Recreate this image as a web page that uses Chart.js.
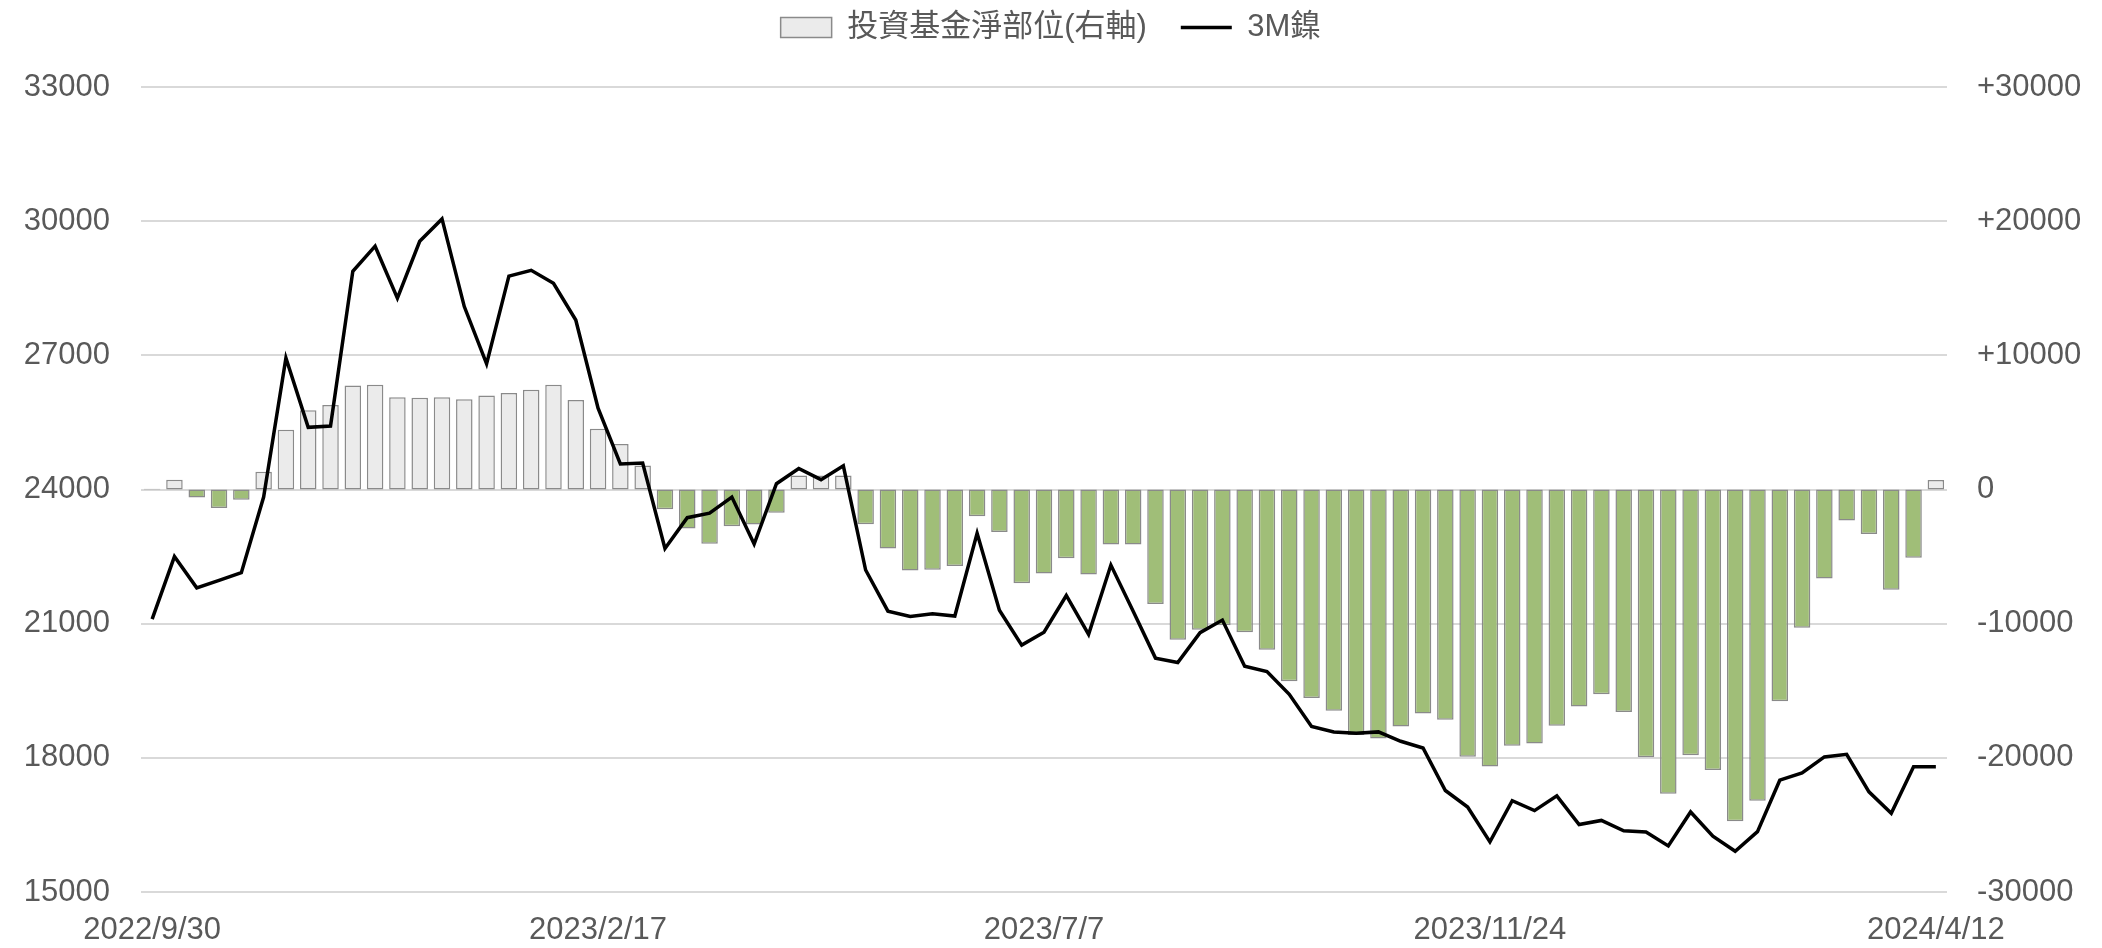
<!DOCTYPE html>
<html>
<head>
<meta charset="utf-8">
<script src="https://cdn.jsdelivr.net/npm/chart.js@4.4.1/dist/chart.umd.min.js"></script>
<style>
  html, body { margin: 0; padding: 0; background: #fff; }
  canvas { display: block; }
</style>
</head>
<body>
<canvas id="grafico" width="2102" height="948"></canvas>
<script>
// semanas (sexta-feira) de 2022/9/30 a 2024/4/12
const semanas = [
  '2022/9/30', '2022/10/7', '2022/10/14', '2022/10/21', '2022/10/28', '2022/11/4', '2022/11/11', '2022/11/18', '2022/11/25', '2022/12/2',
  '2022/12/9', '2022/12/16', '2022/12/23', '2022/12/30', '2023/1/6', '2023/1/13', '2023/1/20', '2023/1/27', '2023/2/3', '2023/2/10',
  '2023/2/17', '2023/2/24', '2023/3/3', '2023/3/10', '2023/3/17', '2023/3/24', '2023/3/31', '2023/4/7', '2023/4/14', '2023/4/21',
  '2023/4/28', '2023/5/5', '2023/5/12', '2023/5/19', '2023/5/26', '2023/6/2', '2023/6/9', '2023/6/16', '2023/6/23', '2023/6/30',
  '2023/7/7', '2023/7/14', '2023/7/21', '2023/7/28', '2023/8/4', '2023/8/11', '2023/8/18', '2023/8/25', '2023/9/1', '2023/9/8',
  '2023/9/15', '2023/9/22', '2023/9/29', '2023/10/6', '2023/10/13', '2023/10/20', '2023/10/27', '2023/11/3', '2023/11/10', '2023/11/17',
  '2023/11/24', '2023/12/1', '2023/12/8', '2023/12/15', '2023/12/22', '2023/12/29', '2024/1/5', '2024/1/12', '2024/1/19', '2024/1/26',
  '2024/2/2', '2024/2/9', '2024/2/16', '2024/2/23', '2024/3/1', '2024/3/8', '2024/3/15', '2024/3/22', '2024/3/29', '2024/4/5',
  '2024/4/12'
];

// datas que aparecem no eixo
const rotulosEixo = ['2022/9/30', '2023/2/17', '2023/7/7', '2023/11/24', '2024/4/12'];

// 投資基金淨部位 (eixo direito)
const posicaoFundos = [
  60, 720, -600, -1370, -770, 1320, 4450, 5910, 6290, 7750,
  7800, 6880, 6830, 6880, 6730, 7000, 7200, 7430, 7800, 6680,
  4520, 3400, 1790, -1470, -2910, -4050, -2740, -2610, -1740, 1050,
  1050, 1050, -2590, -4400, -6040, -5990, -5700, -1990, -3160, -6990,
  -6270, -5120, -6340, -4100, -4100, -8530, -11190, -10450, -10120, -10640,
  -11940, -14300, -15540, -16490, -18300, -18550, -17660, -16690, -17160, -19920,
  -20640, -19100, -18930, -17610, -16170, -15270, -16590, -19950, -22670, -19810,
  -20910, -24720, -23190, -15790, -10310, -6640, -2310, -3320, -7470, -5080,
  700
];

// 3M鎳 (eixo esquerdo)
const niquel3M = [
  21100, 22500, 21800, 21970, 22140, 23830, 26940, 25390, 25420, 28880,
  29440, 28280, 29550, 30050, 28090, 26810, 28770, 28900, 28610, 27790,
  25820, 24570, 24590, 22680, 23370, 23470, 23830, 22780, 24130, 24470,
  24220, 24530, 22200, 21280, 21160, 21220, 21170, 23020, 21300, 20520,
  20810, 21630, 20760, 22310, 21280, 20230, 20130, 20800, 21080, 20050,
  19930, 19420, 18700, 18580, 18550, 18580, 18370, 18220, 17270, 16900,
  16120, 17040, 16820, 17150, 16510, 16600, 16370, 16340, 16030, 16790,
  16250, 15910, 16350, 17500, 17660, 18020, 18080, 17240, 16760, 17800,
  17800
];

const corTexto = '#595959';
const fonte = "'Liberation Sans', Arial, 'Noto Sans CJK TC', sans-serif";

Chart.defaults.font.family = fonte;
Chart.defaults.font.size = 31;
Chart.defaults.color = corTexto;

// altura da legenda para o topo da área do gráfico ficar em 87px
const ajusteLegenda = {
  id: 'ajusteLegenda',
  beforeLayout(chart) {
    const legenda = chart.legend;
    if (!legenda || legenda._ajustada) return;
    const fitOriginal = legenda.fit;
    legenda.fit = function () {
      fitOriginal.call(this);
      this.height = 109;
    };
    legenda._ajustada = true;
  }
};

const ctx = document.getElementById('grafico').getContext('2d');
new Chart(ctx, {
  type: 'bar',
  data: {
    labels: semanas,
    datasets: [
      {
        type: 'bar',
        label: '投資基金淨部位(右軸)',
        data: posicaoFundos,
        yAxisID: 'y1',
        order: 2,
        backgroundColor: c => (c.raw >= 0 ? '#ebebeb' : '#a0be78'),
        borderColor: '#8a8a8a',
        borderWidth: 1.5,
        borderSkipped: false,
        barPercentage: 0.74,
        categoryPercentage: 1,
        pointStyle: 'rect'
      },
      {
        type: 'line',
        label: '3M鎳',
        data: niquel3M,
        yAxisID: 'y',
        order: 1,
        borderColor: '#000000',
        backgroundColor: '#000000',
        borderWidth: 3.5,
        tension: 0,
        pointRadius: 0,
        pointHoverRadius: 0,
        pointStyle: 'line'
      }
    ]
  },
  options: {
    responsive: false,
    devicePixelRatio: 1,
    animation: false,
    layout: { padding: { top: -22, left: 0, right: 0, bottom: 0 } },
    plugins: {
      tooltip: { enabled: false },
      legend: {
        position: 'top',
        labels: {
          usePointStyle: true,
          pointStyleWidth: 51,
          boxHeight: 20,
          padding: 34,
          color: corTexto,
          font: { size: 31 },
          sort: (a, b) => a.datasetIndex - b.datasetIndex
        }
      }
    },
    scales: {
      x: {
        grid: { display: false, drawTicks: false },
        border: { display: false },
        ticks: {
          autoSkip: false,
          maxRotation: 0,
          padding: 20,
          color: corTexto,
          callback: function (val, i) {
            const rotulo = semanas[i];
            return rotulosEixo.includes(rotulo) ? rotulo : '';
          }
        },
        afterFit: s => { s.height = 56; }
      },
      y: {
        position: 'left',
        min: 15000,
        max: 33000,
        grid: { color: '#d9d9d9', lineWidth: 2, drawTicks: false },
        border: { display: false },
        ticks: {
          stepSize: 3000,
          padding: 31,
          color: corTexto,
          callback: v => String(v)
        },
        afterFit: s => { s.width = 141; }
      },
      y1: {
        position: 'right',
        min: -30000,
        max: 30000,
        grid: { display: false, drawTicks: false },
        border: { display: false },
        ticks: {
          stepSize: 10000,
          padding: 30,
          color: corTexto,
          callback: v => (v > 0 ? '+' + v : String(v))
        },
        afterFit: s => { s.width = 155; }
      }
    }
  },
  plugins: [ajusteLegenda]
});
</script>
</body>
</html>
